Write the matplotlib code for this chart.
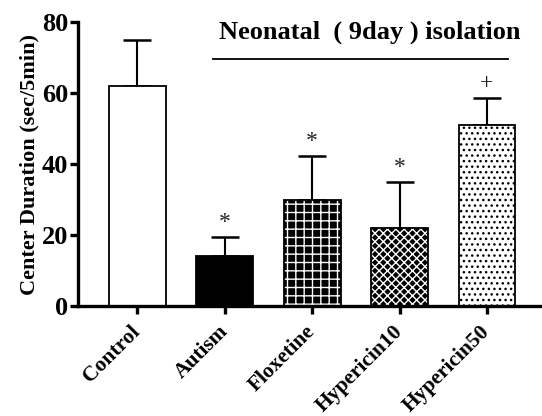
import matplotlib
matplotlib.use("Agg")
import matplotlib.pyplot as plt
import numpy as np

categories = ["Control", "Autism", "Floxetine", "Hypericin10", "Hypericin50"]
means = [62, 14, 30, 22, 51]
errors = [13, 5.5, 12.3, 13, 7.6]
marks = ["", "*", "*", "*", "+"]
title = "Neonatal  ( 9day ) isolation"
ylabel = "Center Duration (sec/5min)"

plt.rcParams['font.family'] = ['Liberation Serif', 'DejaVu Serif']
plt.rcParams['hatch.linewidth'] = 1.0

fig = plt.figure(figsize=(5.42, 4.16), dpi=100)
ax = fig.add_axes([0.144, 0.264, 0.856, 0.683])

x = np.arange(len(categories))
w = 0.65
faces = ["white", "black", "black", "black", "white"]
hatchcols = ["black", "black", "white", "white", "black"]
hatches = [None, None, "++", "xxxx", "..."]

for i in range(len(categories)):
    ax.bar(x[i], means[i], w, color=faces[i], edgecolor=hatchcols[i],
           hatch=hatches[i], linewidth=0, zorder=2)
    ax.bar(x[i], means[i], w, color="none", edgecolor="black",
           linewidth=1.3, zorder=3)
    ax.errorbar(x[i], means[i], yerr=[[0], [errors[i]]], fmt="none",
                ecolor="black", elinewidth=1.5, capsize=10, capthick=1.8, zorder=1)
    if marks[i]:
        ax.text(x[i], means[i] + errors[i] + 1.0, marks[i], ha="center", va="bottom",
                fontsize=17, color="#222222")

ax.set_xlim(-0.68, 4.63)
ax.set_ylim(0, 80)
ax.set_yticks([0, 20, 40, 60, 80])
ax.set_xticks(x)
ax.set_xticklabels(categories, rotation=45, ha="right", va="center",
                   rotation_mode="anchor", fontsize=15.5, fontweight="bold")
for lab in ax.get_yticklabels():
    lab.set_fontsize(19)
    lab.set_fontweight("bold")
ax.set_ylabel(ylabel, fontsize=16, fontweight="bold", labelpad=2)

for s in ["top", "right"]:
    ax.spines[s].set_visible(False)
for s in ["left", "bottom"]:
    ax.spines[s].set_linewidth(2.4)
ax.tick_params(axis="both", width=2.4, length=6, pad=1)
ax.tick_params(axis="x", pad=10)

ax.text(2.66, 77.2, title, ha="center", va="center", fontsize=19, fontweight="bold")
ax.plot([0.86, 4.24], [69.5, 69.5], color="black", linewidth=1.3, clip_on=False)

fig.savefig("out.png", dpi=100)
